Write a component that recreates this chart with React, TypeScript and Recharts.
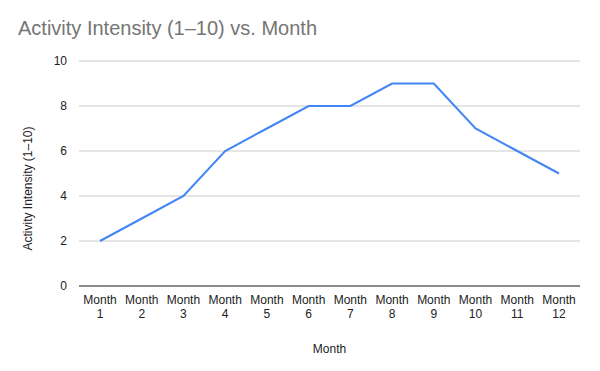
import { CartesianGrid, Line, LineChart, XAxis, YAxis } from "recharts";

const months = [
  "Month 1", "Month 2", "Month 3", "Month 4", "Month 5", "Month 6",
  "Month 7", "Month 8", "Month 9", "Month 10", "Month 11", "Month 12",
];
const intensity = [2, 3, 4, 6, 7, 8, 8, 9, 9, 7, 6, 5];
const yTicks = [0, 2, 4, 6, 8, 10];

const data = months.map((month, i) => ({ month, intensity: intensity[i] }));

const FONT = "'Liberation Sans', Arial, sans-serif";

function MonthTick(props: any) {
  const { x, y, payload } = props;
  const parts = String(payload.value).split(" ");
  return (
    <text x={x} y={y} textAnchor="middle" fontFamily={FONT} fontSize={12} fill="#222">
      <tspan x={x} dy={10}>{parts[0]}</tspan>
      <tspan x={x} dy={14}>{parts[1]}</tspan>
    </text>
  );
}

function YTitle(props: any) {
  const vb = props.viewBox || { y: 61, height: 225 };
  const cx = 28;
  const cy = vb.y + vb.height / 2 + 15;
  return (
    <text
      x={cx}
      y={cy}
      transform={`rotate(-90 ${cx} ${cy})`}
      textAnchor="middle"
      dominantBaseline="central"
      fontFamily={FONT}
      fontSize={12}
      fill="#222"
    >
      Activity Intensity (1–10)
    </text>
  );
}

export default function App() {
  return (
    <div style={{ position: "absolute", left: 0, top: 0, width: 600, height: 371, background: "#fff" }}>
      <div
        style={{
          position: "absolute",
          left: 18,
          top: 17,
          fontFamily: FONT,
          fontSize: 20,
          color: "#757575",
          whiteSpace: "nowrap",
        }}
      >
        Activity Intensity (1–10) vs. Month
      </div>
      <LineChart
        width={600}
        height={371}
        data={data}
        margin={{ top: 61, right: 20, left: 0, bottom: 0 }}
      >
        <CartesianGrid vertical={false} stroke="#cccccc" />
        <XAxis
          dataKey="month"
          height={85}
          tick={<MonthTick />}
          tickLine={false}
          axisLine={{ stroke: "#333333" }}
          interval={0}
          padding={{ left: 21, right: 21 }}
          label={{
            value: "Month",
            position: "insideBottom",
            offset: 18,
            style: { fontFamily: FONT, fontSize: 12, fill: "#222" },
          }}
        />
        <YAxis
          width={79}
          domain={[0, 10]}
          ticks={yTicks}
          tickLine={false}
          axisLine={false}
          tickMargin={6}
          tick={{ fontFamily: FONT, fontSize: 12, fill: "#222" }}
          label={{ content: <YTitle /> }}
        />
        <Line
          type="linear"
          dataKey="intensity"
          stroke="#4285F4"
          strokeWidth={2}
          dot={false}
          isAnimationActive={false}
        />
      </LineChart>
    </div>
  );
}
